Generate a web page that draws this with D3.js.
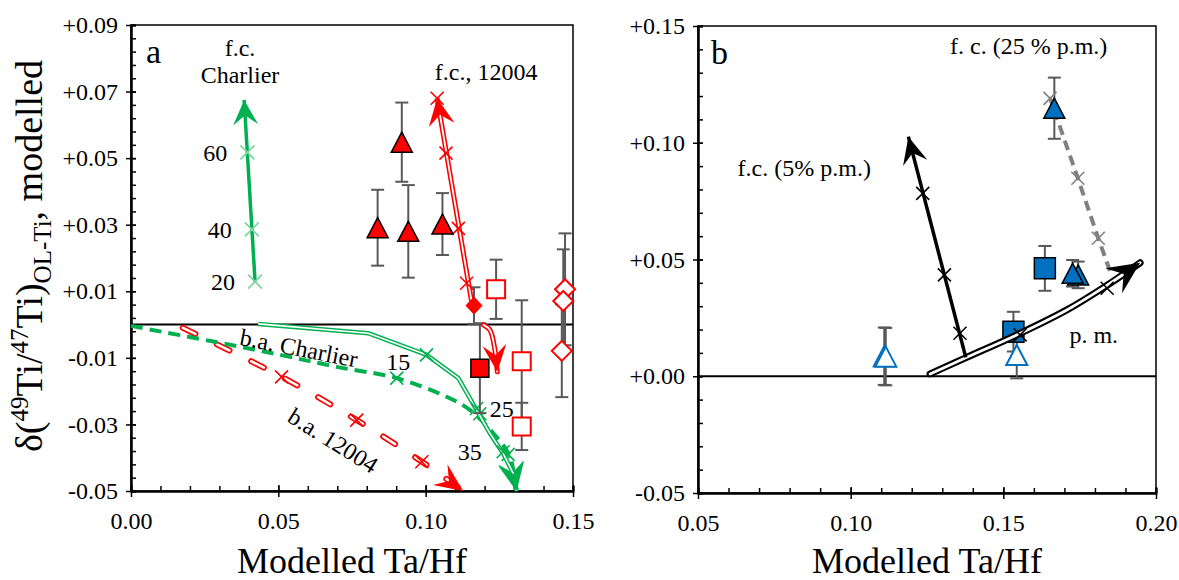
<!DOCTYPE html>
<html>
<head>
<meta charset="utf-8">
<script src="https://cdn.jsdelivr.net/npm/d3@7"></script>
<style>
  body { margin: 0; background: #fff; }
  svg { display: block; font-family: "Liberation Serif", "Times New Roman", serif; }
</style>
</head>
<body>
<svg id="chart" width="1179" height="580"></svg>
<script>
// ---- values ----
// panel a samples: [Ta/Hf, delta, error]
const aTriangles = [[0.0837, 0.0291, 0.0114], [0.0919, 0.0548, 0.0119], [0.0941, 0.0280, 0.0139], [0.1057, 0.0302, 0.0093]];
const aOpenSquares = [[0.1239, 0.0106, 0.0089], [0.1326, -0.0110, 0.0183], [0.1326, -0.0306, 0.0071]];
const aFilledSquares = [[0.1184, -0.0131, 0.0135]];
const aFilledDiamonds = [[0.1164, 0.0057, 0.0055]];
const aOpenDiamonds = [[0.1473, 0.0106, 0.0168], [0.1467, 0.0071, 0.0155], [0.1462, -0.0079, 0.0139]];

// panel a model curves: [Ta/Hf, delta]
const aFcCharlier = [[0.0421, 0.0129], [0.0384, 0.0675]];
const aFcCharlierMarks = [[0.0421, 0.0129], [0.0410, 0.0286], [0.0395, 0.0517]];
const aFcCharlierLabels = ['20', '40', '60'];
const aFc12004 = [[0.1156, 0.0069], [0.1039, 0.0680]];
const aFc12004Marks = [[0.1139, 0.0124], [0.1111, 0.0289], [0.1069, 0.0515], [0.1039, 0.0680]];
const aFc12004Tail = [[0.1196, -0.0001], [0.1218, -0.0016], [0.1235, -0.0076], [0.1243, -0.0142]];
const aBaCharlier = [[0.0432, 0.0002], [0.0805, -0.0026], [0.1003, -0.0091], [0.1111, -0.0161], [0.1173, -0.0257],
  [0.1218, -0.0327], [0.1263, -0.0387], [0.1297, -0.0447], [0.1309, -0.0500]];
const aBaCharlierMarks = [[0.1003, -0.0091], [0.1173, -0.0252], [0.1263, -0.0382]];
const aBaCharlierLabels = ['15', '25', '35'];
const aBaCharlierDash = [[0.0000, -0.0004], [0.0279, -0.0051], [0.0506, -0.0091], [0.0698, -0.0127], [0.0902, -0.0161],
  [0.1071, -0.0217], [0.1151, -0.0257], [0.1230, -0.0327], [0.1286, -0.0397], [0.1305, -0.0497]];
const aBaCharlierDashMarks = [[0.0902, -0.0161], [0.1184, -0.0268], [0.1280, -0.0390]];
const aBa12004 = [[0.0176, -0.0010], [0.0511, -0.0157], [0.0766, -0.0287], [0.0987, -0.0412], [0.1127, -0.0500]];
const aBa12004Marks = [[0.0511, -0.0157], [0.0766, -0.0287], [0.0987, -0.0412]];

// panel b samples: [Ta/Hf, delta, error]
const bOpenTriangles = [[0.1110, 0.0086, 0.0123], [0.1115, 0.0084, 0.0123], [0.1544, 0.0091, 0.0100]];
const bSquares = [[0.1533, 0.0191, 0.0085], [0.1636, 0.0462, 0.0096]];
const bTriangles = [[0.1745, 0.0434, 0.0057], [0.1727, 0.0441, 0.0057], [0.1667, 0.1148, 0.0131]];

// panel b model curves
const bPm = [[0.1260, 0.0010], [0.1380, 0.0081], [0.1544, 0.0177], [0.1708, 0.0284], [0.1833, 0.0384], [0.1948, 0.0486]];
const bPmMarks = [[0.1555, 0.0177], [0.1840, 0.0377]];
const bFc5 = [[0.1377, 0.0081], [0.1189, 0.1026]];
const bFc5Marks = [[0.1358, 0.0184], [0.1307, 0.0434], [0.1236, 0.0783]];
const bFc25 = [[0.1849, 0.0451], [0.1811, 0.0591], [0.1744, 0.0848], [0.1653, 0.1190]];
const bFc25Marks = [[0.1811, 0.0591], [0.1744, 0.0848], [0.1653, 0.1190]];

// ticks
const aXTicks = [0, 0.05, 0.10, 0.15];
const aYTicks = [-0.05, -0.03, -0.01, 0.01, 0.03, 0.05, 0.07, 0.09];
const bXTicks = [0.05, 0.10, 0.15, 0.20];
const bYTicks = [-0.05, 0, 0.05, 0.10, 0.15];

const RED = '#ff0000', GREEN = '#00b050', BLUE = '#0070c0', GREY = '#595959';

const svg = d3.select('#chart');
svg.append('rect').attr('width', 1179).attr('height', 580).attr('fill', '#fff');

const fmtY = v => (v >= -1e-9 ? '+' : '') + v.toFixed(2);

// draws frame, axes and zero line for one panel
function panel(box, xDom, yDom, xTicks, yTicks, xMinor, yMinor) {
  const x = d3.scaleLinear().domain(xDom).range([box.l, box.r]);
  const y = d3.scaleLinear().domain(yDom).range([box.b, box.t]);
  const g = svg.append('g');

  g.append('rect').attr('x', box.l).attr('y', box.t)
    .attr('width', box.r - box.l).attr('height', box.b - box.t)
    .attr('fill', 'none').attr('stroke', '#000').attr('stroke-width', 1.5);

  // zero line
  g.append('line').attr('x1', box.l).attr('x2', box.r)
    .attr('y1', y(0)).attr('y2', y(0)).attr('stroke', '#000').attr('stroke-width', 2);

  // minor ticks (inside)
  g.append('g').attr('transform', `translate(${box.l},0)`)
    .call(d3.axisRight(y).tickValues(yMinor).tickSize(5).tickFormat(''));
  g.append('g').attr('transform', `translate(0,${box.b})`)
    .call(d3.axisTop(x).tickValues(xMinor).tickSize(5).tickFormat(''));

  // major ticks, crossing the axis
  const ya = g.append('g').attr('transform', `translate(${box.l},0)`)
    .call(d3.axisLeft(y).tickValues(yTicks).tickSizeInner(5).tickSizeOuter(0).tickPadding(8).tickFormat(fmtY));
  ya.selectAll('.tick line').attr('x1', 5);
  const xa = g.append('g').attr('transform', `translate(0,${box.b})`)
    .call(d3.axisBottom(x).tickValues(xTicks).tickSizeInner(6).tickSizeOuter(0).tickPadding(15).tickFormat(d3.format('.2f')));
  xa.selectAll('.tick line').attr('y1', -6);

  g.selectAll('.domain').attr('stroke-width', 2);
  g.selectAll('.tick line').attr('stroke-width', 1.5);
  g.selectAll('.tick text').attr('font-size', 24).attr('font-family', '"Liberation Serif", serif').attr('fill', '#000');
  return { x, y, g };
}

function line(p, pts, color, width, opt = {}) {
  const gen = d3.line().x(d => p.x(d[0])).y(d => p.y(d[1])).curve(opt.curve || d3.curveLinear);
  const path = p.g.append('path').attr('d', gen(pts)).attr('fill', 'none')
    .attr('stroke', color).attr('stroke-width', width)
    .attr('stroke-linecap', opt.cap || 'butt').attr('stroke-linejoin', 'round');
  if (opt.dash) path.attr('stroke-dasharray', opt.dash);
  if (opt.inner) {
    const inner = p.g.append('path').attr('d', gen(pts)).attr('fill', 'none')
      .attr('stroke', '#fff').attr('stroke-width', opt.inner)
      .attr('stroke-linecap', opt.cap || 'butt').attr('stroke-linejoin', 'round');
    if (opt.dash) inner.attr('stroke-dasharray', opt.dash);
  }
}

function arrowHead(p, pts, color, len, wid) {
  const a = pts[pts.length - 2], b = pts[pts.length - 1];
  const x0 = p.x(a[0]), y0 = p.y(a[1]), x1 = p.x(b[0]), y1 = p.y(b[1]);
  const ang = Math.atan2(y1 - y0, x1 - x0) * 180 / Math.PI;
  p.g.append('path')
    .attr('d', `M0,0 L${-len},${-wid / 2} L${-len * 0.62},0 L${-len},${wid / 2} Z`)
    .attr('transform', `translate(${x1},${y1}) rotate(${ang})`)
    .attr('fill', color);
}

function crosses(p, pts, color, s, w) {
  p.g.selectAll(null).data(pts).enter().append('path')
    .attr('d', `M${-s},${-s}L${s},${s}M${-s},${s}L${s},${-s}`)
    .attr('transform', d => `translate(${p.x(d[0])},${p.y(d[1])})`)
    .attr('stroke', color).attr('stroke-width', w).attr('fill', 'none');
}

function errorBars(p, pts) {
  pts.forEach(d => {
    const cx = p.x(d[0]), t = p.y(d[1] + d[2]), b = p.y(d[1] - d[2]);
    p.g.append('line').attr('x1', cx).attr('x2', cx).attr('y1', t).attr('y2', b).attr('stroke', GREY).attr('stroke-width', 2);
    [t, b].forEach(yy => p.g.append('line').attr('x1', cx - 6.5).attr('x2', cx + 6.5)
      .attr('y1', yy).attr('y2', yy).attr('stroke', GREY).attr('stroke-width', 2));
  });
}

const shapes = {
  triangle: (w, h) => `M0,${-h / 2}L${w / 2},${h / 2}L${-w / 2},${h / 2}Z`,
  square: (w) => `M${-w / 2},${-w / 2}h${w}v${w}h${-w}Z`,
  diamond: (w, h) => `M0,${-h / 2}L${w / 2},0L0,${h / 2}L${-w / 2},0Z`
};

function markers(p, pts, d, fill, stroke, sw) {
  p.g.selectAll(null).data(pts).enter().append('path')
    .attr('d', d)
    .attr('transform', v => `translate(${p.x(v[0])},${p.y(v[1])})`)
    .attr('fill', fill).attr('stroke', stroke).attr('stroke-width', sw);
}

function label(p, txt, vx, vy, size, anchor, rot) {
  const t = p.g.append('text').attr('x', p.x(vx)).attr('y', p.y(vy))
    .attr('font-size', size).attr('text-anchor', anchor || 'start').text(txt);
  if (rot) t.attr('transform', `rotate(${rot},${p.x(vx)},${p.y(vy)})`);
  return t;
}

// ---------------- panel a ----------------
const pa = panel({ l: 131, r: 573, t: 25, b: 491 }, [0, 0.15], [-0.05, 0.09], aXTicks, aYTicks,
  d3.range(0, 16).map(k => k * 0.01), d3.range(0, 36).map(k => -0.05 + k * 0.004));

// model curves
line(pa, aBa12004, RED, 6, { dash: '14 24', inner: 2.6, cap: 'round', curve: d3.curveCatmullRom });
arrowHead(pa, aBa12004, RED, 28, 25);
crosses(pa, aBa12004Marks, RED, 6.5, 1.6);

line(pa, aBaCharlierDash, GREEN, 4, { dash: '12 7', curve: d3.curveCatmullRom });
arrowHead(pa, aBaCharlierDash, GREEN, 28, 26);
crosses(pa, aBaCharlierDashMarks, GREEN, 6.5, 1.6);

line(pa, aBaCharlier, GREEN, 4.5, { inner: 1.6, curve: d3.curveLinear });
arrowHead(pa, aBaCharlier, GREEN, 28, 26);
crosses(pa, aBaCharlierMarks, GREEN, 6.5, 1.6);

line(pa, aFcCharlier, GREEN, 3.5);
arrowHead(pa, aFcCharlier, GREEN, 25, 25);
crosses(pa, aFcCharlierMarks, '#7fd6a2', 7, 1.8);

// samples
errorBars(pa, aTriangles);
errorBars(pa, aOpenSquares);
errorBars(pa, aFilledSquares);
errorBars(pa, aFilledDiamonds);
errorBars(pa, aOpenDiamonds);

line(pa, aFc12004, RED, 5, { inner: 1.8 });
arrowHead(pa, aFc12004, RED, 27, 26);
crosses(pa, aFc12004Marks, RED, 6.5, 1.6);
line(pa, aFc12004Tail, RED, 5, { inner: 1.8, cap: 'round', curve: d3.curveCatmullRom });
arrowHead(pa, aFc12004Tail, RED, 27, 24);

markers(pa, aTriangles, shapes.triangle(21, 20), RED, '#000', 1.5);
markers(pa, aOpenSquares, shapes.square(18), '#fff', RED, 2);
markers(pa, aFilledSquares, shapes.square(18), RED, '#000', 1.5);
markers(pa, aFilledDiamonds, shapes.diamond(16, 17), RED, RED, 1);
markers(pa, aOpenDiamonds, shapes.diamond(20, 20), '#fff', RED, 2);

// annotations
pa.g.append('text').attr('x', 146).attr('y', 63).attr('font-size', 34).text('a');
label(pa, 'f.c.', 0.0370, 0.0808, 24, 'middle');
label(pa, 'Charlier', 0.0370, 0.0725, 24, 'middle');
label(pa, 'f.c., 12004', 0.1205, 0.0735, 24, 'middle');
aFcCharlierMarks.forEach((d, i) => label(pa, aFcCharlierLabels[i], d[0] - 0.0068, d[1] - 0.0025, 24, 'end'));
label(pa, 'b.a. Charlier', 0.0570, -0.0070, 24, 'middle', 11).attr('dy', '0.35em');
label(pa, 'b.a. 12004', 0.0686, -0.0348, 24, 'middle', 32).attr('dy', '0.35em');
[[0.0907, -0.0112], [0.1258, -0.0252], [0.1150, -0.0382]].forEach((d, i) =>
  label(pa, aBaCharlierLabels[i], d[0], d[1], 24, 'middle').attr('dy', '0.35em'));

// ---------------- panel b ----------------
const pb = panel({ l: 698, r: 1156, t: 26, b: 493 }, [0.05, 0.20], [-0.05, 0.15], bXTicks, bYTicks,
  d3.range(0, 16).map(k => 0.05 + k * 0.01), d3.range(0, 21).map(k => -0.05 + k * 0.01));

errorBars(pb, bOpenTriangles);
errorBars(pb, bSquares);
errorBars(pb, bTriangles);

line(pb, bFc25, '#808080', 4, { dash: '10 6' });
crosses(pb, bFc25Marks, '#808080', 6.5, 1.6);

markers(pb, bOpenTriangles, shapes.triangle(21, 20), '#fff', BLUE, 2);
markers(pb, bSquares, shapes.square(21), BLUE, '#000', 1.5);
markers(pb, bTriangles, shapes.triangle(21, 20), BLUE, '#000', 1.5);

line(pb, bPm, '#000', 7, { inner: 2.8, cap: 'round', curve: d3.curveCatmullRom });
arrowHead(pb, bPm, '#000', 32, 30);
crosses(pb, bPmMarks, '#000', 6.5, 1.6);

line(pb, bFc5, '#000', 3.5);
arrowHead(pb, bFc5, '#000', 27, 25);
crosses(pb, bFc5Marks, '#000', 6.5, 1.6);

pb.g.append('text').attr('x', 711).attr('y', 64).attr('font-size', 34).text('b');
label(pb, 'f. c. (25 % p.m.)', 0.1583, 0.1381, 24, 'middle');
label(pb, 'f.c. (5% p.m.)', 0.0848, 0.0858, 24, 'middle');
label(pb, 'p. m.', 0.1796, 0.0141, 24, 'middle');

// ---------------- axis titles ----------------
svg.append('text').attr('x', 352).attr('y', 573).attr('font-size', 36).attr('text-anchor', 'middle').text('Modelled Ta/Hf');
svg.append('text').attr('x', 927).attr('y', 573).attr('font-size', 36).attr('text-anchor', 'middle').text('Modelled Ta/Hf');

const yt = svg.append('text').attr('transform', 'translate(42,256) rotate(-90)')
  .attr('font-size', 38).attr('text-anchor', 'middle');
yt.append('tspan').text('δ(');
yt.append('tspan').attr('font-size', 25).attr('dy', -14).text('49');
yt.append('tspan').attr('dy', 14).text('Ti/');
yt.append('tspan').attr('font-size', 25).attr('dy', -14).text('47');
yt.append('tspan').attr('dy', 14).text('Ti)');
yt.append('tspan').attr('font-size', 25).attr('dy', 9).text('OL-Ti');
yt.append('tspan').attr('dy', -9).text(', modelled');
</script>
</body>
</html>
